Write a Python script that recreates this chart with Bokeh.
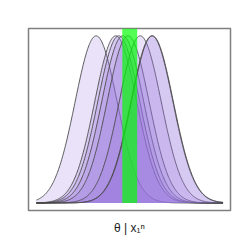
import numpy as np
from bokeh.plotting import figure
from bokeh.models import Range1d, FixedTicker
from bokeh.embed import file_html
from bokeh.resources import INLINE

# posterior curves (normal), theta grid
theta_min, theta_max = -4.0, 4.0
centers = [-1.44, -0.60, -0.47, -0.30, -0.07, 0.45, 0.95, 0.97]
sigmas = [0.9, 0.9, 0.9, 0.9, 0.9, 0.9, 0.9, 0.9]
band_lo, band_hi = -0.32, 0.32
x_label = "θ | x₁ⁿ"

theta = np.linspace(theta_min, theta_max, 400)
peak = 1.0 / (sigmas[0] * np.sqrt(2 * np.pi))
y0, y1 = -0.045 * peak, 1.044 * peak

p = figure(width=245, height=245, output_backend="svg", toolbar_location=None,
           x_range=Range1d(-4.34, 4.32), y_range=Range1d(y0, y1),
           min_border_left=28, min_border_right=15, min_border_top=28, min_border_bottom=35)

for c, s in zip(centers, sigmas):
    dens = np.exp(-0.5 * ((theta - c) / s) ** 2) / (s * np.sqrt(2 * np.pi))
    p.varea(x=theta, y1=np.zeros_like(theta), y2=dens, fill_color="#9370db", fill_alpha=0.2)
    p.line(theta, dens, line_color="#4a4a4a", line_width=1, line_alpha=0.9)

p.quad(left=[band_lo], right=[band_hi], bottom=[0], top=[y1],
       fill_color="#00ff00", fill_alpha=0.68, line_color=None)

p.yaxis.visible = False
p.xaxis.ticker = FixedTicker(ticks=[])
p.xaxis.axis_line_color = None
p.xaxis.major_tick_line_color = None
p.xaxis.minor_tick_line_color = None
p.xaxis.axis_label = x_label
p.xaxis.axis_label_text_font = "Liberation Sans"
p.xaxis.axis_label_text_font_style = "normal"
p.xaxis.axis_label_text_font_size = "12px"
p.xaxis.axis_label_text_color = "#222222"
p.xaxis.axis_label_standoff = 10
p.grid.visible = False
p.outline_line_color = "#7f7f7f"
p.outline_line_width = 1.5
p.background_fill_color = "white"
p.border_fill_color = "white"

open("out.html", "w").write(file_html(p, INLINE))
